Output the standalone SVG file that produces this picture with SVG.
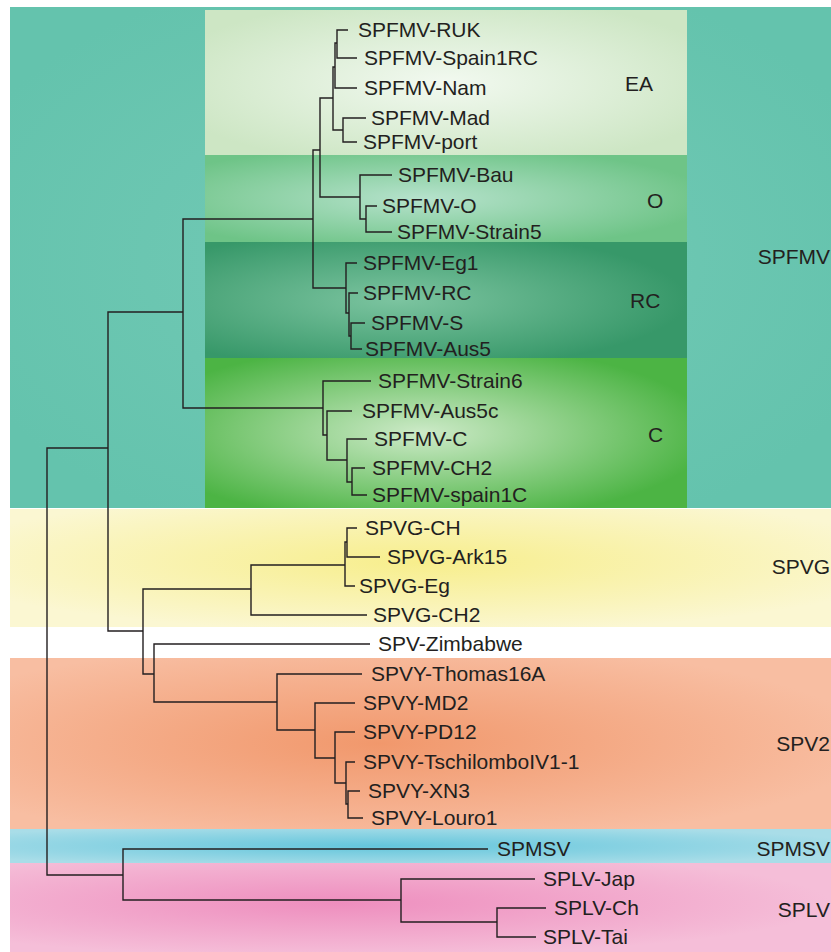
<svg xmlns="http://www.w3.org/2000/svg" width="831" height="952" viewBox="0 0 831 952">
<style>
text{font-family:"Liberation Sans",Arial,sans-serif;font-size:21px;fill:#231f20}
.g{text-anchor:end}
.c{fill:none;stroke:#231f20;stroke-width:1.4}
</style>
<defs>
<radialGradient id="gT" cx="0.5" cy="0.5" r="0.6"><stop offset="0" stop-color="#74cab6"/><stop offset="1" stop-color="#64c3ad"/></radialGradient>
<radialGradient id="gEA" cx="0.5" cy="0.5" r="0.6"><stop offset="0" stop-color="#f2f9f0"/><stop offset="1" stop-color="#cde6c4"/></radialGradient>
<radialGradient id="gO" cx="0.45" cy="0.5" r="0.6"><stop offset="0" stop-color="#b6e2cc"/><stop offset="1" stop-color="#6ec487"/></radialGradient>
<radialGradient id="gRC" cx="0.4" cy="0.5" r="0.6"><stop offset="0" stop-color="#7cc4a0"/><stop offset="1" stop-color="#379869"/></radialGradient>
<radialGradient id="gC" cx="0.45" cy="0.5" r="0.6"><stop offset="0" stop-color="#cdeac8"/><stop offset="1" stop-color="#4cb444"/></radialGradient>
<radialGradient id="gY" cx="0.5" cy="0.45" r="0.6"><stop offset="0" stop-color="#f7ee8c"/><stop offset="1" stop-color="#fbf7d2"/></radialGradient>
<radialGradient id="gS" cx="0.45" cy="0.5" r="0.6"><stop offset="0" stop-color="#f1986c"/><stop offset="1" stop-color="#f8bea2"/></radialGradient>
<radialGradient id="gB" cx="0.45" cy="0.5" r="0.6"><stop offset="0" stop-color="#64c6dc"/><stop offset="1" stop-color="#a9dde8"/></radialGradient>
<radialGradient id="gP" cx="0.4" cy="0.45" r="0.6"><stop offset="0" stop-color="#ee8ebe"/><stop offset="1" stop-color="#f5bed8"/></radialGradient>
</defs>
<rect width="831" height="952" fill="#ffffff"/>
<g id="bands">
<rect x="10" y="7" width="821" height="501" fill="url(#gT)"/>
<rect x="205" y="10" width="482" height="145" fill="url(#gEA)"/>
<rect x="205" y="155" width="482" height="87" fill="url(#gO)"/>
<rect x="205" y="242" width="482" height="116" fill="url(#gRC)"/>
<rect x="205" y="358" width="482" height="150" fill="url(#gC)"/>
<rect x="10" y="509" width="821" height="118" fill="url(#gY)"/>
<rect x="10" y="658" width="821" height="171" fill="url(#gS)"/>
<rect x="10" y="829" width="821" height="34" fill="url(#gB)"/>
<rect x="10" y="863" width="821" height="89" fill="url(#gP)"/>
</g>
<g id="connectors" class="c">
<path d="M108 448H47V875H123"/>
<path d="M183 312H108V631H143"/>
<path d="M313 219H183V408H323"/>
<path d="M320 150H313V288H346"/>
<path d="M333 98H320V197H360"/>
<path d="M335 67H333V130H343"/>
<path d="M337 43H335V88H357"/>
<path d="M348 30H337V58H357"/>
<path d="M366 118H343V142H357"/>
<path d="M392 175H360V219H366"/>
<path d="M377 206H366V232H392"/>
<path d="M357 263H346V313H349"/>
<path d="M358 293H349V336H351"/>
<path d="M365 323H351V349H362"/>
<path d="M371 381H323V435H327"/>
<path d="M352 411H327V460H347"/>
<path d="M367 439H347V482H352"/>
<path d="M365 468H352V495H367"/>
<path d="M251 589H143V674H154"/>
<path d="M345 565H251V615H367"/>
<path d="M347 542H345V586H355"/>
<path d="M357 528H347V557H380"/>
<path d="M370 644H154V702H277"/>
<path d="M362 674H277V730H315"/>
<path d="M355 703H315V758H335"/>
<path d="M355 732H335V783H346"/>
<path d="M355 762H346V804H348"/>
<path d="M360 791H348V818H363"/>
<path d="M488 849H123V900H401"/>
<path d="M535 879H401V922H497"/>
<path d="M546 908H497V937H536"/>
</g>
<g id="leaf-RUK"><text x="358" y="37">SPFMV-RUK</text></g>
<g id="leaf-Spain1RC"><text x="364" y="65">SPFMV-Spain1RC</text></g>
<g id="leaf-Nam"><text x="364" y="95">SPFMV-Nam</text></g>
<g id="leaf-Mad"><text x="371" y="125">SPFMV-Mad</text></g>
<g id="leaf-port"><text x="363" y="149">SPFMV-port</text></g>
<g id="leaf-Bau"><text x="398" y="182">SPFMV-Bau</text></g>
<g id="leaf-O"><text x="382" y="213">SPFMV-O</text></g>
<g id="leaf-Strain5"><text x="397" y="239">SPFMV-Strain5</text></g>
<g id="leaf-Eg1"><text x="363" y="270">SPFMV-Eg1</text></g>
<g id="leaf-RC"><text x="363" y="300">SPFMV-RC</text></g>
<g id="leaf-S"><text x="371" y="330">SPFMV-S</text></g>
<g id="leaf-Aus5"><text x="365" y="356">SPFMV-Aus5</text></g>
<g id="leaf-Strain6"><text x="378" y="388">SPFMV-Strain6</text></g>
<g id="leaf-Aus5c"><text x="362" y="418">SPFMV-Aus5c</text></g>
<g id="leaf-C"><text x="374" y="446">SPFMV-C</text></g>
<g id="leaf-CH2"><text x="372" y="475">SPFMV-CH2</text></g>
<g id="leaf-spain1C"><text x="372" y="502">SPFMV-spain1C</text></g>
<g id="leaf-SPVG-CH"><text x="365" y="535">SPVG-CH</text></g>
<g id="leaf-SPVG-Ark15"><text x="387" y="564">SPVG-Ark15</text></g>
<g id="leaf-SPVG-Eg"><text x="359" y="593">SPVG-Eg</text></g>
<g id="leaf-SPVG-CH2"><text x="373" y="622">SPVG-CH2</text></g>
<g id="leaf-SPV-Zimbabwe"><text x="378" y="651">SPV-Zimbabwe</text></g>
<g id="leaf-SPVY-Thomas16A"><text x="371" y="681">SPVY-Thomas16A</text></g>
<g id="leaf-SPVY-MD2"><text x="363" y="710">SPVY-MD2</text></g>
<g id="leaf-SPVY-PD12"><text x="363" y="739">SPVY-PD12</text></g>
<g id="leaf-SPVY-Tschilombo"><text x="363" y="769">SPVY-TschilomboIV1-1</text></g>
<g id="leaf-SPVY-XN3"><text x="368" y="798">SPVY-XN3</text></g>
<g id="leaf-SPVY-Louro1"><text x="371" y="825">SPVY-Louro1</text></g>
<g id="leaf-SPMSV"><text x="497" y="856">SPMSV</text></g>
<g id="leaf-SPLV-Jap"><text x="543" y="886">SPLV-Jap</text></g>
<g id="leaf-SPLV-Ch"><text x="554" y="915">SPLV-Ch</text></g>
<g id="leaf-SPLV-Tai"><text x="543" y="944">SPLV-Tai</text></g>
<g id="label-EA"><text x="625" y="91">EA</text></g>
<g id="label-O"><text x="647" y="208">O</text></g>
<g id="label-RC"><text x="630" y="308">RC</text></g>
<g id="label-C"><text x="648" y="442">C</text></g>
<g id="label-SPFMV"><text class="g" x="830" y="264">SPFMV</text></g>
<g id="label-SPVG"><text class="g" x="830" y="574">SPVG</text></g>
<g id="label-SPV2"><text class="g" x="830" y="751">SPV2</text></g>
<g id="label-SPMSV"><text class="g" x="830" y="856">SPMSV</text></g>
<g id="label-SPLV"><text class="g" x="830" y="917">SPLV</text></g>
</svg>
